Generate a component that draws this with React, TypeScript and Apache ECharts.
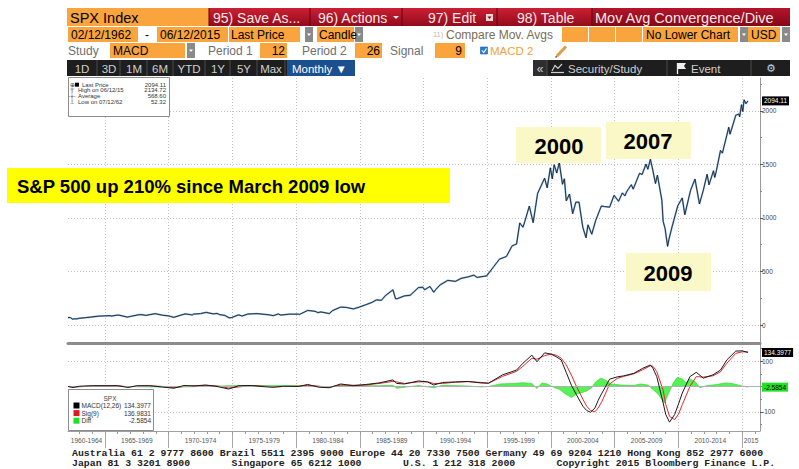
import React, { useEffect, useRef } from 'react';
import * as echarts from 'echarts';

// ---------- DATA ----------
const priceDates = [
  1962.1, 1962.3, 1962.45, 1962.6, 1962.8, 1962.95, 1963.5, 1963.95, 1964.5, 1964.95,
  1965.4, 1965.5, 1965.95, 1966.1, 1966.75, 1967.0, 1967.7, 1967.95, 1968.2, 1968.95,
  1969.5, 1970.0, 1970.4, 1970.95, 1971.3, 1971.85, 1971.95, 1972.5, 1972.95, 1973.5,
  1973.8, 1974.0, 1974.4, 1974.75, 1974.95, 1975.5, 1975.75, 1976.2, 1976.95, 1977.9,
  1978.2, 1978.6, 1978.8, 1979.5, 1979.8, 1980.2, 1980.25, 1980.9, 1981.5, 1981.7,
  1981.95, 1982.6, 1982.85, 1983.5, 1983.95, 1984.5, 1984.95, 1985.5, 1985.95, 1986.3,
  1986.7, 1987.0, 1987.6, 1987.8, 1987.95, 1988.5, 1988.95, 1989.6, 1989.95, 1990.08,
  1990.5, 1990.8, 1990.95, 1991.3, 1991.9, 1992.5, 1992.95, 1993.5, 1993.95, 1994.2,
  1994.95, 1995.5, 1995.95, 1996.5, 1996.95, 1997.3, 1997.55, 1997.8, 1997.95, 1998.3,
  1998.6, 1998.95, 1999.5, 1999.7, 1999.95, 2000.1, 2000.25, 2000.45, 2000.65, 2000.9,
  2001.05, 2001.2, 2001.45, 2001.7, 2001.95, 2002.2, 2002.5, 2002.75, 2002.9, 2003.2,
  2003.5, 2003.95, 2004.2, 2004.6, 2004.95, 2005.3, 2005.6, 2005.8, 2005.95, 2006.3,
  2006.45, 2006.95, 2007.15, 2007.45, 2007.6, 2007.8, 2007.95, 2008.2, 2008.35, 2008.55,
  2008.7, 2008.8, 2008.95, 2009.15, 2009.25, 2009.5, 2009.95, 2010.3, 2010.5, 2010.95,
  2011.3, 2011.65, 2011.95, 2012.25, 2012.4, 2012.75, 2012.85, 2012.95, 2013.3, 2013.45,
  2013.95, 2014.05, 2014.5, 2014.75, 2014.8, 2014.95, 2015.05, 2015.15, 2015.3, 2015.45,
];
const priceValues = [
  70, 69, 55, 58, 57, 63, 69, 75, 83, 85,
  88, 84, 92, 93, 74, 80, 97, 96, 90, 106,
  92, 85, 72, 92, 104, 94, 102, 107, 118, 104,
  108, 97, 90, 67, 70, 95, 84, 102, 107, 95,
  87, 103, 93, 102, 101, 102, 98, 136, 128, 116,
  122, 107, 134, 168, 164, 150, 167, 191, 211, 235,
  231, 274, 329, 245, 247, 272, 278, 350, 353, 329,
  360, 306, 330, 375, 417, 408, 436, 450, 466, 445,
  459, 545, 615, 640, 740, 757, 954, 914, 970, 1111,
  957, 1229, 1372, 1282, 1469, 1366, 1498, 1420, 1517, 1315,
  1366, 1160, 1224, 1040, 1148, 1147, 911, 815, 936, 848,
  975, 1112, 1107, 1101, 1212, 1156, 1234, 1207, 1248, 1311,
  1270, 1418, 1406, 1503, 1455, 1549, 1468, 1322, 1400, 1267,
  1166, 968, 903, 735, 798, 919, 1115, 1187, 1030, 1258,
  1364, 1131, 1258, 1408, 1310, 1441, 1379, 1426, 1631, 1606,
  1848, 1783, 1960, 1972, 1946, 2059, 1995, 2104, 2068, 2094.11,
];

const macdDates = [
  1962.1, 1962.5, 1963.0, 1964.0, 1965.0, 1966.0, 1966.8, 1967.5, 1968.5, 1969.5,
  1970.4, 1971.2, 1972.0, 1972.9, 1973.8, 1974.7, 1975.5, 1976.5, 1977.5, 1978.2,
  1979.0, 1980.2, 1980.9, 1981.8, 1982.6, 1983.5, 1984.5, 1985.5, 1986.5, 1987.6,
  1987.9, 1988.5, 1989.6, 1990.3, 1990.8, 1991.5, 1992.5, 1993.5, 1994.5, 1995.1,
  1996.2, 1997.3, 1997.8, 1998.5, 1998.9, 1999.5, 2000.0, 2000.4, 2000.8, 2001.2,
  2001.6, 2002.0, 2002.5, 2002.8, 2003.1, 2003.45, 2003.7, 2004.0, 2004.6, 2005.2,
  2005.7, 2006.5, 2007.2, 2007.8, 2008.0, 2008.3, 2008.8, 2009.0, 2009.3, 2009.7,
  2010.0, 2010.3, 2010.9, 2011.4, 2011.95, 2012.7, 2013.3, 2013.8, 2014.5, 2015.0,
  2015.45,
];
const macdValues = [
  0, -4, 1, 3, 3, 3, -4, 3, 3, -2,
  -7, 4, 2, 6, 0, -10, 3, 4, -1, -3,
  1, 0, 8, -3, -5, 10, 3, 8, 14, 26,
  12, 10, 22, 18, 6, 16, 18, 20, 14, 13,
  46, 65, 92, 124, 98, 133, 128, 118, 105, 55,
  5, -33, -78, -95, -102, -85, -55, -26, 29, 38,
  42, 52, 72, 85, 72, 39, -65, -110, -141, -111,
  -70, -26, 39, 56, 33, 46, 65, 105, 140, 141,
  134.3977,
];
const signalValues = [
  0, -2, -1, 2, 3, 3, -1, 1, 3, 0,
  -4, 0, 3, 4, 2, -6, -2, 4, 1, -2,
  0, 1, 5, 1, -3, 6, 5, 6, 12, 20,
  18, 12, 18, 19, 12, 12, 17, 19, 16, 13,
  40, 60, 80, 112, 108, 122, 128, 124, 112, 85,
  45, 0, -50, -78, -95, -100, -85, -59, 10, 32,
  40, 50, 66, 82, 80, 59, -15, -70, -118, -131,
  -110, -72, 0, 39, 37, 42, 58, 92, 131, 137,
  136.9831,
];
const diffDates = [
  1962.1, 1965.0, 1970.4, 1975.5, 1980.9, 1982.6, 1983.5, 1986.5, 1987.6, 1987.9,
  1989.6, 1990.8, 1991.5, 1993.5, 1994.5, 1995.1, 1996.0, 1997.0, 1997.8, 1998.5,
  1998.9, 1999.3, 1999.7, 2000.2, 2000.7, 2001.0, 2001.6, 2002.0, 2002.4, 2002.8,
  2003.2, 2003.5, 2003.9, 2004.3, 2004.7, 2005.5, 2006.5, 2007.0, 2007.6, 2008.0,
  2008.4, 2008.9, 2009.2, 2009.6, 2009.9, 2010.3, 2010.6, 2010.9, 2011.3, 2011.7,
  2012.2, 2013.0, 2013.7, 2014.2, 2014.7, 2015.0, 2015.45,
];
const diffValues = [
  0, 1, -3, 4, 3, -2, 4, 3, 5, -7,
  4, -5, 5, 2, -2, 0, 10, 12, 15, 12,
  -8, 14, 10, -3, -12, -25, -44, -30, -25, -18,
  -5, 18, 33, 25, 10, 6, 4, 10, 6, -12,
  -30, -65, -30, 15, 36, 30, 15, 30, 20, -5,
  3, 8, 14, 12, 6, 2, -2.5854,
];

const periodStarts = [1960, 1965, 1970, 1975, 1980, 1985, 1990, 1995, 2000, 2005, 2010, 2015];
const periodLabels = ['1960-1964', '1965-1969', '1970-1974', '1975-1979', '1980-1984', '1985-1989',
  '1990-1994', '1995-1999', '2000-2004', '2005-2009', '2010-2014', '2015'];
const priceTicks = [0, 500, 1000, 1500, 2000];
const priceMinorTicks = [250, 750, 1250, 1750, 2250];
const macdTicks = [-100, 100];
const macdMinorTicks = [-150, -50, 0, 50, 150];

const legendNames = ['Last Price', 'High on 06/12/15', 'Average', 'Low on 07/12/62'];
const legendValues = ['2094.11', '2134.72', '568.60', '52.32'];
const macdLegendNames = ['MACD(12,26)', 'Sig(9)', 'Diff'];
const macdLegendValues = ['134.3977', '136.9831', '-2.5854'];
const lastPrice = 2094.11;
const lastMacd = 134.3977;
const lastDiff = -2.5854;

// ---------- HELPERS ----------
const X_MIN = 1962.1;
const X_MAX = 2016.4;
const SANS = 'Liberation Sans, Arial, sans-serif';
const UI = 'Liberation Sans, Arial, sans-serif';
const ORANGE = '#F9A43C';

const R = (x: number, y: number, w: number, h: number, fill: any, extra: any = {}, z = 50) => ({
  type: 'rect', silent: true, z, shape: { x, y, width: w, height: h }, style: { fill, ...extra },
});
const T = (x: number, y: number, text: string, o: any = {}) => ({
  type: 'text', silent: true, z: o.z ?? 52, x, y,
  style: {
    text, fill: o.fill ?? '#000', fontSize: o.size ?? 13, fontFamily: o.font ?? UI,
    fontWeight: o.weight ?? 'normal', align: o.align ?? 'left', verticalAlign: 'middle',
  },
});
const L = (x1: number, y1: number, x2: number, y2: number, stroke: string, w = 1, z = 51) => ({
  type: 'line', silent: true, z, shape: { x1, y1, x2, y2 }, style: { stroke, lineWidth: w },
});
const dropdown = (x: number, y: number, h: number) => [
  R(x, y, 8, h, '#8a8a8a'),
  { type: 'polygon', silent: true, z: 52, shape: { points: [[x + 2, y + h / 2 - 1], [x + 6, y + h / 2 - 1], [x + 4, y + h / 2 + 1.5]] }, style: { fill: '#fff' } },
];

export default function App() {
  const ref = useRef<HTMLDivElement>(null);

  useEffect(() => {
    if (!ref.current) return;
    const chart = echarts.init(ref.current, undefined, { renderer: 'svg' });

    const pricePairs = priceDates.map((d, i) => [d, priceValues[i]]);
    const macdPairs = macdDates.map((d, i) => [d, macdValues[i]]);
    const sigPairs = macdDates.map((d, i) => [d, signalValues[i]]);
    const bandPairs = macdDates.map((d, i) => [d, Math.max(0, signalValues[i] - macdValues[i])]);
    const diffPairs = diffDates.map((d, i) => [d, diffValues[i]]);

    const boundaries = periodStarts.filter((s) => s > X_MIN && s < X_MAX);
    const labelMids = periodStarts.map((s) => (Math.max(s, X_MIN) + Math.min(s + 5, X_MAX)) / 2);
    const yearTicks: number[] = [];
    for (let y = Math.ceil(X_MIN); y <= X_MAX; y++) yearTicks.push(y);
    const labelFor = (v: number) => {
      const i = labelMids.findIndex((m) => Math.abs(m - v) < 0.01);
      return i >= 0 ? periodLabels[i] : '';
    };
    const plain = (v: number) => String(v);

    const dotted = { color: '#c2c2c2', width: 1, type: [1, 2] };

    const redGrad = new echarts.graphic.LinearGradient(0, 0, 0, 1, [
      { offset: 0, color: '#cc1f33' }, { offset: 1, color: '#930b1c' },
    ]);
    const redGrad2 = new echarts.graphic.LinearGradient(0, 0, 0, 1, [
      { offset: 0, color: '#b5142a' }, { offset: 1, color: '#850818' },
    ]);

    const g: any[] = [];
    const W1 = '#f6e8e8';
    // Row 1
    g.push(R(67, 8, 142, 18, ORANGE));
    g.push(T(70, 17.5, 'SPX Index', { size: 14.5 }));
    g.push(R(209, 8, 383, 18, redGrad));
    g.push(R(592, 8, 198, 18, redGrad2));
    [209, 310, 402, 497, 592].forEach((x) => g.push(L(x, 8, x, 26, '#5e0410', 1)));
    g.push(T(213, 17.5, '95) Save As...', { size: 14, fill: W1 }));
    g.push(T(318, 17.5, '96) Actions', { size: 14, fill: W1 }));
    g.push({ type: 'polygon', silent: true, z: 52, shape: { points: [[393, 16], [399, 16], [396, 19]] }, style: { fill: W1 } });
    g.push(T(428, 17.5, '97) Edit', { size: 14, fill: W1 }));
    g.push(R(486, 14, 7, 7, '#e9d6d6'));
    g.push({ type: 'polygon', silent: true, z: 53, shape: { points: [[487.5, 16.5], [491.5, 16.5], [489.5, 19]] }, style: { fill: '#6a0a16' } });
    g.push(T(517, 17.5, '98) Table', { size: 14, fill: W1 }));
    g.push(T(595, 17.5, 'Mov Avg Convergence/Dive', { size: 14.5, fill: W1 }));

    // Row 2
    const S2 = 12;
    g.push(R(68, 27, 70, 15, ORANGE));
    g.push(T(71, 34.5, '02/12/1962', { size: S2 }));
    g.push(T(147, 34.5, '-', { size: S2, align: 'center' }));
    g.push(R(157, 27, 71, 15, ORANGE));
    g.push(T(160, 34.5, '06/12/2015', { size: S2 }));
    g.push(R(229, 27, 71, 15, ORANGE));
    g.push(T(231, 34.5, 'Last Price', { size: S2 }));
    g.push(...dropdown(305, 27, 15));
    g.push(R(317, 27, 37, 15, ORANGE));
    g.push(T(319, 34.5, 'Candle', { size: S2 }));
    g.push(...dropdown(355, 27, 15));
    g.push(T(433, 34.5, '11)', { size: 7.5, fill: '#b8b8b8' }));
    g.push(T(446, 34.5, 'Compare Mov. Avgs', { size: S2, fill: '#7c6c52' }));
    g.push(R(562, 27, 26, 15, ORANGE));
    g.push(R(589, 27, 26, 15, ORANGE));
    g.push(R(616, 27, 26, 15, ORANGE));
    g.push(R(643, 27, 95, 15, ORANGE));
    g.push(T(646, 34.5, 'No Lower Chart', { size: S2 }));
    g.push(...dropdown(740, 27, 15));
    g.push(R(748, 27, 32, 15, ORANGE));
    g.push(T(751, 34.5, 'USD', { size: S2 }));
    g.push(...dropdown(782, 27, 15));

    // Row 3
    g.push(T(68, 50.5, 'Study', { size: S2, fill: '#6e6e6e' }));
    g.push(R(110, 43, 75, 15, ORANGE));
    g.push(T(113, 50.5, 'MACD', { size: S2 }));
    g.push(...dropdown(187, 43, 15));
    g.push(T(208, 50.5, 'Period 1', { size: S2, fill: '#6e6e6e' }));
    g.push(R(260, 43, 27, 15, ORANGE));
    g.push(T(285, 50.5, '12', { size: S2, align: 'right' }));
    g.push(T(302, 50.5, 'Period 2', { size: S2, fill: '#6e6e6e' }));
    g.push(R(355, 43, 27, 15, ORANGE));
    g.push(T(380, 50.5, '26', { size: S2, align: 'right' }));
    g.push(T(390, 50.5, 'Signal', { size: S2, fill: '#6e6e6e' }));
    g.push(R(435, 43, 30, 15, ORANGE));
    g.push(T(462, 50.5, '9', { size: S2, align: 'right' }));
    g.push(R(480.5, 47, 7, 7, '#2c80d3', { stroke: '#1b5a9c', lineWidth: 0.6 }));
    g.push({ type: 'polyline', silent: true, z: 53, shape: { points: [[482, 50.5], [483.8, 52.5], [486.5, 48.5]] }, style: { stroke: '#fff', lineWidth: 1.1, fill: 'none' } });
    g.push(T(490, 50.5, 'MACD 2', { size: 11.5, fill: '#f0a23a' }));
    g.push(L(557, 56, 566, 46.5, '#d9a048', 3));
    g.push(L(555.5, 57.5, 557, 56, '#7a5a20', 1.5));

    // Row 4
    g.push(R(67, 60, 220, 16, '#1e1e1e'));
    [97, 120, 147, 173, 205, 230, 257, 285].forEach((x) => g.push(L(x, 60, x, 76, '#4a4a4a', 1)));
    [['1D', 82], ['3D', 109], ['1M', 134], ['6M', 160], ['YTD', 189], ['1Y', 218], ['5Y', 244], ['Max', 271]].forEach(
      ([t, x]) => g.push(T(x as number, 68.5, t as string, { size: 11.5, fill: '#cfcfcf', align: 'center' })),
    );
    g.push(R(287, 60, 68, 16, '#1c4f8f'));
    g.push(T(292, 68.5, 'Monthly ▼', { size: 11.5, fill: '#ffffff' }));
    g.push(R(533, 60, 257, 16, '#1e1e1e'));
    g.push(R(533, 60, 14, 16, '#2e2e2e'));
    g.push(T(540, 68.5, '«', { size: 12, fill: '#cfcfcf', align: 'center' }));
    [547, 667, 751].forEach((x) => g.push(L(x, 60, x, 76, '#4a4a4a', 1)));
    g.push({ type: 'polyline', silent: true, z: 53, shape: { points: [[552, 71], [555, 65.5], [558, 68.5], [562, 64]] }, style: { stroke: '#cfcfcf', lineWidth: 1.2, fill: 'none' } });
    g.push(L(551, 72.5, 564, 72.5, '#cfcfcf', 1.2, 53));
    g.push(T(568, 68.5, 'Security/Study', { size: 11.5, fill: '#cfcfcf' }));
    g.push(L(677.5, 63, 677.5, 74, '#f0f0f0', 1.3, 53));
    g.push({ type: 'polygon', silent: true, z: 53, shape: { points: [[678, 63], [686, 63], [684, 66], [686, 69], [678, 69]] }, style: { fill: '#f0f0f0' } });
    g.push(T(691, 68.5, 'Event', { size: 11.5, fill: '#cfcfcf' }));
    g.push(T(771, 68.5, '⚙', { size: 11, fill: '#cfcfcf', align: 'center', font: 'DejaVu Sans' }));

    // Price legend box
    g.push(R(68.5, 77.5, 101, 39, '#ffffff', { stroke: '#8c8c8c', lineWidth: 1 }, 60));
    g.push(L(72, 87, 72, 102, '#9a9a9a', 0.6, 61));
    g.push(T(70, 84.7, '⊕', { size: 6, font: 'DejaVu Sans', fill: '#333', z: 62 }));
    g.push(R(75, 82.7, 4, 4, '#000', {}, 62));
    g.push(T(72, 90.3, '⊤', { size: 6, font: 'DejaVu Sans', fill: '#555', align: 'center', z: 62 }));
    g.push(T(72, 96, '-+-', { size: 6, font: SANS, fill: '#555', align: 'center', z: 62 }));
    g.push(T(72, 101.7, '⊥', { size: 6, font: 'DejaVu Sans', fill: '#555', align: 'center', z: 62 }));
    legendNames.forEach((n, i) => {
      const y = 84.7 + i * 5.67;
      g.push(T(i === 0 ? 82 : 78, y, n, { size: 6, font: SANS, fill: '#333', z: 62 }));
      g.push(T(166, y, legendValues[i], { size: 6, font: SANS, fill: '#333', align: 'right', z: 62 }));
    });

    // MACD legend box
    g.push(R(68.5, 389.5, 85, 41, '#ffffff', { stroke: '#8c8c8c', lineWidth: 1 }, 60));
    g.push(T(110, 398.5, 'SPX', { size: 6.5, font: SANS, fill: '#444', align: 'center', z: 62 }));
    const legCols = ['#000000', '#e3161e', '#22dd22'];
    macdLegendNames.forEach((n, i) => {
      const y = 405.5 + i * 7.6;
      g.push(R(73.5, y - 3, 6, 6, legCols[i], {}, 62));
      g.push(T(81.5, y, n, { size: 6.5, font: SANS, fill: '#333', z: 62 }));
      g.push(T(151, y, macdLegendValues[i], { size: 6.5, font: SANS, fill: '#333', align: 'right', z: 62 }));
    });

    // Annotations
    g.push(R(7, 168, 443, 35, '#FFFF00', {}, 70));
    g.push(T(17, 186, 'S&P 500 up 210% since March 2009 low', { size: 18.5, weight: 'bold', font: SANS, z: 71 }));
    g.push(R(516, 127, 85, 36, '#FBF8C8', {}, 70));
    g.push(T(559, 146, '2000', { size: 22, weight: 'bold', font: SANS, align: 'center', z: 71 }));
    g.push(R(606, 122, 85, 37, '#FBF8C8', {}, 70));
    g.push(T(648, 141, '2007', { size: 22, weight: 'bold', font: SANS, align: 'center', z: 71 }));
    g.push(R(626, 253, 85, 38, '#FBF8C8', {}, 70));
    g.push(T(668, 273, '2009', { size: 22, weight: 'bold', font: SANS, align: 'center', z: 71 }));

    // Footer
    const MONO = 'Liberation Mono, DejaVu Sans Mono, monospace';
    const cw = 5.91;
    const F = { size: 9.85, font: MONO, weight: 'bold', fill: '#222' };
    g.push(T(72, 453, 'Australia 61 2 9777 8600 Brazil 5511 2395 9000 Europe 44 20 7330 7500 Germany 49 69 9204 1210 Hong Kong 852 2977 6000', F));
    g.push(T(72, 463.5, 'Japan 81 3 3201 8900', F));
    g.push(T(72 + 27 * cw, 463.5, 'Singapore 65 6212 1000', F));
    g.push(T(72 + 56 * cw, 463.5, 'U.S. 1 212 318 2000', F));
    g.push(T(72 + 82 * cw, 463.5, 'Copyright 2015 Bloomberg Finance L.P.', F));

    const valueLabel = (text: string, bg: string, color: string) => ({
      show: true, position: 'end', formatter: text, backgroundColor: bg, color,
      fontSize: 6.5, fontFamily: SANS, padding: [1, 2, 1, 2], distance: 2,
    });

    const option: any = {
      animation: false,
      backgroundColor: '#ffffff',
      textStyle: { fontFamily: SANS },
      grid: [
        { left: 68, top: 78, width: 692, height: 265, outerBoundsMode: 'none', containLabel: false },
        { left: 68, top: 344, width: 692, height: 87, outerBoundsMode: 'none', containLabel: false },
      ],
      xAxis: [
        {
          type: 'value', gridIndex: 0, min: X_MIN, max: X_MAX, position: 'bottom',
          axisLine: { show: true, onZero: false, lineStyle: { color: '#8c8c8c', width: 3 } },
          axisTick: { show: false, customValues: boundaries },
          axisLabel: { show: false },
          splitLine: { show: true, lineStyle: dotted },
        },
        {
          type: 'value', gridIndex: 1, min: X_MIN, max: X_MAX, position: 'bottom',
          axisLine: { show: true, onZero: false, lineStyle: { color: '#a0a0a0', width: 1 } },
          axisTick: { show: true, customValues: boundaries, length: 17, lineStyle: { color: '#a8a8a8' } },
          axisLabel: { show: true, customValues: labelMids, formatter: (v: number) => labelFor(v), fontSize: 6.6, color: '#555', margin: 6, showMinLabel: true, showMaxLabel: true, hideOverlap: false },
          splitLine: { show: true, lineStyle: dotted },
        },
        {
          type: 'value', gridIndex: 1, min: X_MIN, max: X_MAX, position: 'bottom',
          axisLine: { show: false, onZero: false },
          axisTick: { show: true, customValues: yearTicks, length: 3, lineStyle: { color: '#999' } },
          axisLabel: { show: false },
          splitLine: { show: false },
        },
      ],
      yAxis: [
        {
          type: 'value', gridIndex: 0, position: 'right', min: -168, max: 2308,
          axisLine: { show: true, onZero: false, lineStyle: { color: '#9a9a9a' } },
          axisTick: { show: true, customValues: priceTicks, length: 3, lineStyle: { color: '#555' } },
          axisLabel: { show: true, customValues: priceTicks, formatter: plain, fontSize: 6.5, color: '#444', margin: 2 },
          splitLine: { show: true, lineStyle: dotted },
        },
        {
          type: 'value', gridIndex: 0, position: 'right', min: -168, max: 2308,
          axisLine: { show: false, onZero: false },
          axisTick: { show: true, customValues: priceMinorTicks, length: 2, lineStyle: { color: '#888' } },
          axisLabel: { show: false },
          splitLine: { show: false },
        },
        {
          type: 'value', gridIndex: 1, position: 'right', min: -176, max: 168,
          axisLine: { show: true, onZero: false, lineStyle: { color: '#9a9a9a' } },
          axisTick: { show: true, customValues: macdTicks, length: 3, lineStyle: { color: '#555' } },
          axisLabel: { show: true, customValues: macdTicks, formatter: plain, fontSize: 6.5, color: '#444', margin: 2 },
          splitLine: { show: true, lineStyle: dotted },
        },
        {
          type: 'value', gridIndex: 1, position: 'right', min: -176, max: 168,
          axisLine: { show: false, onZero: false },
          axisTick: { show: true, customValues: macdMinorTicks, length: 2, lineStyle: { color: '#888' } },
          axisLabel: { show: false },
          splitLine: { show: false },
        },
      ],
      series: [
        {
          type: 'line', xAxisIndex: 0, yAxisIndex: 0, data: pricePairs, symbol: 'none', silent: true, z: 2,
          lineStyle: { color: '#5b9ee0', width: 1.8, opacity: 0.75 },
        },
        {
          type: 'line', xAxisIndex: 0, yAxisIndex: 0, data: pricePairs, symbol: 'none', silent: true, z: 3,
          lineStyle: { color: '#111111', width: 0.8 },
          markLine: {
            silent: true, symbol: ['none', 'none'],
            lineStyle: { color: 'transparent', width: 0 },
            label: valueLabel(lastPrice.toFixed(2), '#000000', '#ffffff'),
            data: [{ yAxis: lastPrice }],
          },
        },
        {
          type: 'line', xAxisIndex: 1, yAxisIndex: 2, data: diffPairs, symbol: 'none', silent: true, z: 2,
          lineStyle: { color: '#2ccf2c', width: 0.6 },
          areaStyle: { color: '#4cf04c', opacity: 0.95 },
          markLine: {
            silent: true, symbol: ['none', 'none'],
            data: [
              { yAxis: 0, lineStyle: { color: '#b0b0b0', width: 1, type: 'solid' }, label: { show: false } },
              { yAxis: lastDiff, lineStyle: { color: 'transparent', width: 0 }, label: valueLabel(String(lastDiff), '#22e022', '#000000') },
            ],
          },
        },
        {
          type: 'line', xAxisIndex: 1, yAxisIndex: 2, data: macdPairs, symbol: 'none', silent: true, z: 3,
          stack: 'band', stackStrategy: 'all', lineStyle: { width: 0, opacity: 0 },
        },
        {
          type: 'line', xAxisIndex: 1, yAxisIndex: 2, data: bandPairs, symbol: 'none', silent: true, z: 3,
          stack: 'band', stackStrategy: 'all', lineStyle: { width: 0, opacity: 0 },
          areaStyle: { color: '#f08a8a', opacity: 0.8 },
        },
        {
          type: 'line', xAxisIndex: 1, yAxisIndex: 2, data: sigPairs, symbol: 'none', silent: true, z: 4,
          lineStyle: { color: '#e3262e', width: 1 },
        },
        {
          type: 'line', xAxisIndex: 1, yAxisIndex: 2, data: macdPairs, symbol: 'none', silent: true, z: 5,
          lineStyle: { color: '#1a1a1a', width: 1 },
          markLine: {
            silent: true, symbol: ['none', 'none'],
            lineStyle: { color: 'transparent', width: 0 },
            label: valueLabel(String(lastMacd), '#000000', '#ffffff'),
            data: [{ yAxis: lastMacd }],
          },
        },
      ],
      graphic: { elements: g },
    };

    chart.setOption(option);
    return () => chart.dispose();
  }, []);

  return <div ref={ref} style={{ position: 'absolute', left: 0, top: 0, width: 799, height: 469, background: '#fff' }} />;
}
